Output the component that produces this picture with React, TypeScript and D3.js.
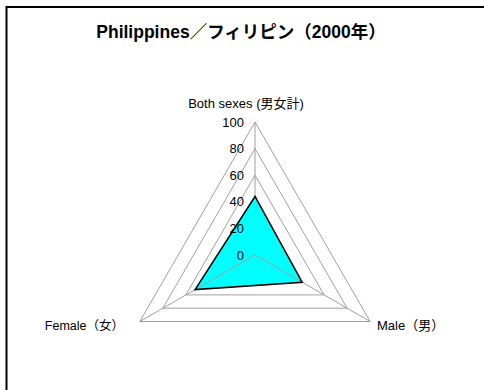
import React from "react";
import * as d3 from "d3";

const categories = ["Both sexes (男女計)", "Male（男）", "Female（女）"];
const values = [44, 41, 52];
const ticks = [0, 20, 40, 60, 80, 100];
const title = "Philippines／フィリピン（2000年）";

const W = 484;
const H = 390;
const cx = 255;
const cy = 255;
const R = 133;
const font = "'Liberation Sans', Arial, 'Noto Sans CJK JP', sans-serif";

export default function App() {
  const r = d3.scaleLinear().domain([0, 100]).range([0, R]);
  const angle = (i: number) => -Math.PI / 2 + (i * 2 * Math.PI) / categories.length;
  const pt = (i: number, v: number): [number, number] => [
    cx + r(v) * Math.cos(angle(i)),
    cy + r(v) * Math.sin(angle(i)),
  ];
  const line = d3.line<[number, number]>().curve(d3.curveLinearClosed);
  const grid = ticks.filter((t) => t > 0);
  const dataPts = values.map((v, i) => pt(i, v));

  return (
    <svg
      width={W}
      height={H}
      style={{ position: "absolute", left: 0, top: 0, background: "#fff" }}
    >
      <rect x={6.5} y={7} width={W + 20} height={H + 20} fill="#fff" stroke="#000" strokeWidth={2} />
      <text x={241} y={38} textAnchor="middle" fontFamily={font} fontWeight="bold" fontSize={17.5}>
        {title}
      </text>
      {grid.map((t) => (
        <path
          key={t}
          d={line(categories.map((_, i) => pt(i, t))) || ""}
          fill="none"
          stroke="#a0a0a0"
          strokeWidth={1}
        />
      ))}
      {categories.map((_, i) => {
        const [x, y] = pt(i, 100);
        return <line key={i} x1={cx} y1={cy} x2={x} y2={y} stroke="#a0a0a0" strokeWidth={1} />;
      })}
      <path d={line(dataPts) || ""} fill="#00ffff" stroke="none" />
      {categories.map((_, i) =>
        i === 0 ? null : (
          <line
            key={"s" + i}
            x1={cx}
            y1={cy}
            x2={dataPts[i][0]}
            y2={dataPts[i][1]}
            stroke="#a0a0a0"
            strokeWidth={1}
          />
        )
      )}
      <path d={line(dataPts) || ""} fill="none" stroke="#000" strokeWidth={1.5} strokeLinejoin="miter" />
      {ticks.map((t) => (
        <text
          key={t}
          x={cx - 11}
          y={cy - r(t)}
          dy="0.36em"
          textAnchor="end"
          fontFamily={font}
          fontSize={13}
        >
          {t}
        </text>
      ))}
      <text x={246} y={108} textAnchor="middle" fontFamily={font} fontSize={13}>
        {categories[0]}
      </text>
      <text x={377} y={330} textAnchor="start" fontFamily={font} fontSize={13}>
        {categories[1]}
      </text>
      <text x={124} y={330} textAnchor="end" fontFamily={font} fontSize={12.5}>
        {categories[2]}
      </text>
    </svg>
  );
}
